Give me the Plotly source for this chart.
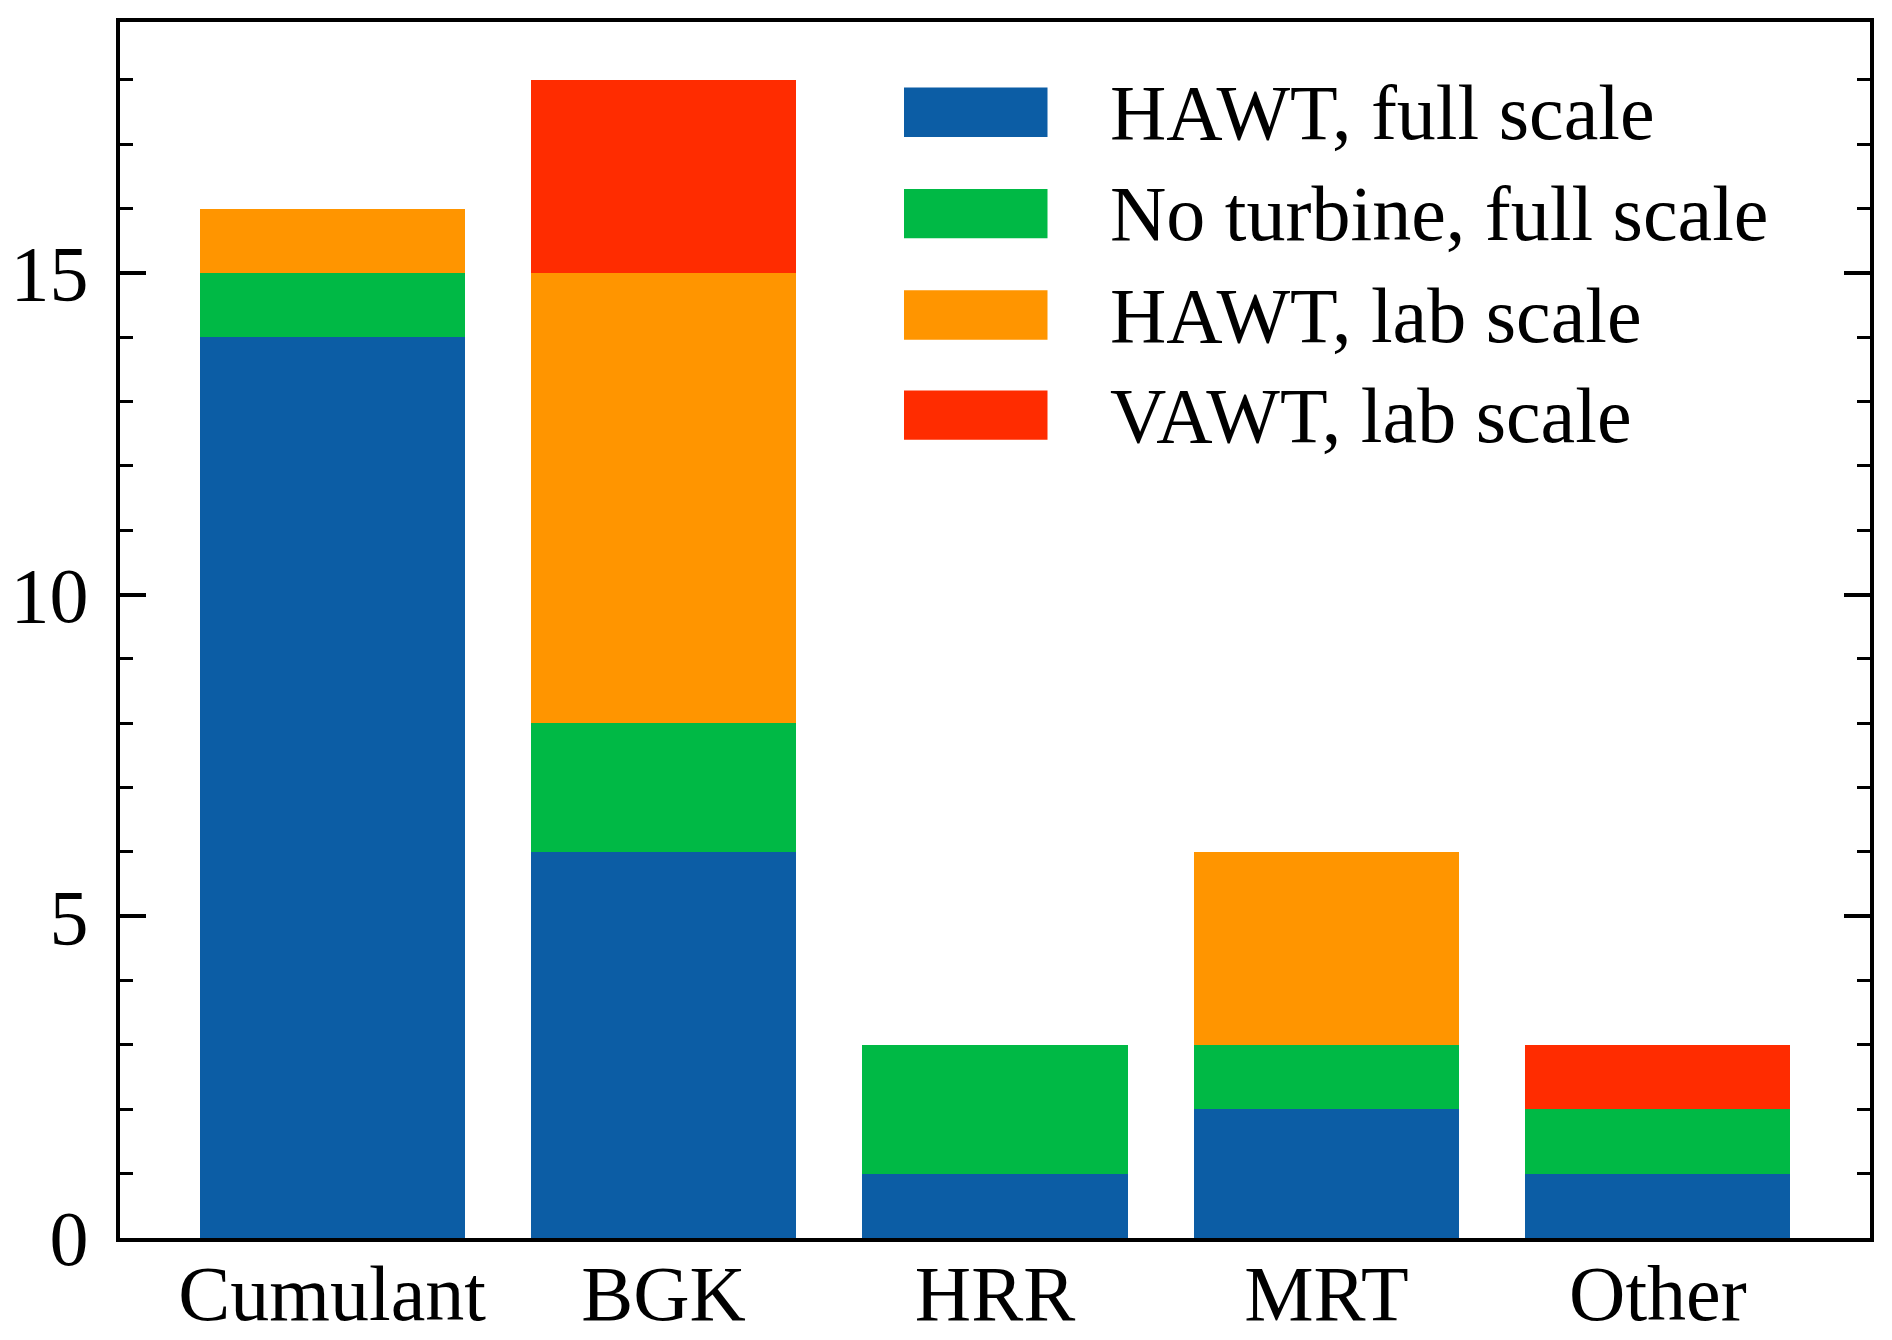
import plotly.graph_objects as go

categories = ["Cumulant", "BGK", "HRR", "MRT", "Other"]
hawt_full = [14, 6, 1, 2, 1]
no_turbine_full = [1, 2, 2, 1, 1]
hawt_lab = [1, 7, 0, 3, 0]
vawt_lab = [0, 3, 0, 0, 1]

series_names = ["HAWT, full scale", "No turbine, full scale", "HAWT, lab scale", "VAWT, lab scale"]
series_values = [hawt_full, no_turbine_full, hawt_lab, vawt_lab]
colors = ["#0C5DA5", "#00B945", "#FF9500", "#FF2C00"]

FONT = "Liberation Serif"
FS = 78

fig = go.Figure()
xs = list(range(len(categories)))
for name, vals, col in zip(series_names, series_values, colors):
    fig.add_trace(go.Bar(x=xs, y=vals, name=name, marker=dict(color=col, line=dict(width=0)),
                         width=0.8, showlegend=False))

fig.update_layout(
    barmode="stack",
    width=1892, height=1340,
    margin=dict(l=120, r=22, t=22, b=102, autoexpand=False),
    paper_bgcolor="white", plot_bgcolor="white",
    font=dict(family=FONT, size=FS, color="black"),
)
fig.update_xaxes(
    range=[-0.64, 4.64], tickmode="array", tickvals=xs, ticktext=categories,
    ticks="", showline=True, linecolor="black", linewidth=4, mirror=True,
    showgrid=False, zeroline=False, ticklabelstandoff=-16, automargin=False,
)
fig.update_yaxes(
    range=[0, 18.9], tickmode="array", tickvals=[0, 5, 10, 15],
    ticks="inside", ticklen=26, tickwidth=4, tickcolor="black",
    showline=True, linecolor="black", linewidth=4, mirror="ticks",
    showgrid=False, zeroline=False, ticklabelstandoff=12, automargin=False,
    minor=dict(tickmode="array", tickvals=[i for i in range(0, 19) if i % 5 != 0],
               ticks="inside", ticklen=13, tickwidth=3, tickcolor="black", showgrid=False),
)

# legend drawn as paper-anchored boxes + labels
row_y = [0.9258, 0.8424, 0.7590, 0.6767]
hh = 0.0203
for name, col, yc in zip(series_names, colors, row_y):
    fig.add_shape(type="rect", xref="paper", yref="paper", x0=0.448, x1=0.530,
                  y0=yc - hh, y1=yc + hh, fillcolor=col, line=dict(width=0))
    fig.add_annotation(xref="paper", yref="paper", x=0.5645, y=yc, text=name,
                       showarrow=False, xanchor="left", yanchor="middle",
                       font=dict(family=FONT, size=FS, color="black"))

# remove the browser's default body margin so the figure fills the window exactly
fig.write_html("out.html", config={"displayModeBar": False},
               post_script="document.body.style.margin='0px';document.body.style.overflow='hidden';")
